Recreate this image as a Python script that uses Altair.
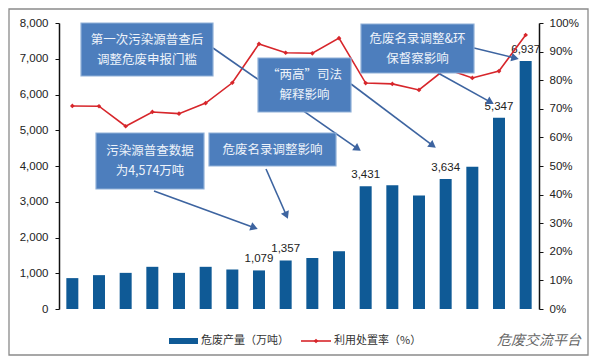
import math
import altair as alt
import pandas as pd

# ---------------- data ----------------
years = [str(y) for y in range(2000, 2018)]
output_wt = [864, 947, 1011, 1180, 1011, 1180, 1105, 1079, 1357, 1430, 1616,
             3431, 3465, 3175, 3634, 3976, 5347, 6937]
rate_pct = [71.0, 70.9, 63.9, 68.9, 68.3, 72.0, 79.1, 92.7, 89.6, 89.4, 94.7,
            79.0, 78.7, 76.6, 84.0, 80.8, 83.2, 95.8]
labelled_years = ["2007", "2008", "2011", "2014", "2016", "2017"]

series_bar = "危废产量（万吨）"
series_line = "利用处置率（%）"

box_lines = [
    ["第一次污染源普查后", "调整危废申报门槛"],
    ["“两高”司法", "解释影响"],
    ["危废名录调整&环", "保督察影响"],
    ["污染源普查数据", "为4,574万吨"],
    ["危废名录调整影响"],
]

# ---------------- layout of annotations (pixels in plot area) ----------------
W, H = 480, 286
box_pos = [  # x, x2, y, y2
    (22, 154, 0, 53),
    (199, 292, 35, 89),
    (302, 415, 1, 50),
    (37, 145, 110, 166),
    (150, 277, 110, 143),
]
arrow_pos = [  # x, y, x2, y2 (tip at x2,y2)
    (154, 25, 302, 128),
    (292, 61, 377, 125),
    (415, 25, 460, 36),
    (379, 50, 435, 81),
    (95, 168, 199, 206),
    (207, 146, 229, 196),
]

BAR_COLOR = "#0f5a96"
LINE_COLOR = "#d7262b"
BOX_COLOR = "#4d7ebd"
ARROW_COLOR = "#3d64a0"
FONT = "Liberation Sans"
CJK = "Noto Sans CJK SC"

df = pd.DataFrame({"year": years, "output": output_wt, "rate": rate_pct})
df["label"] = [f"{v:,}" if y in labelled_years else "" for y, v in zip(years, output_wt)]

xenc = alt.X("year:N", title=None, scale=alt.Scale(paddingInner=0.55, paddingOuter=0.275),
             axis=alt.Axis(labelAngle=0, labelFontSize=9.5, labelFont=FONT, labelColor="#222",
                           domainColor="#111", domainWidth=1.5, tickColor="#111", tickSize=3,
                           tickBand="extent", labelPadding=5))

bars = alt.Chart(df).mark_bar(color=BAR_COLOR).encode(
    x=xenc,
    y=alt.Y("output:Q", title=None,
            scale=alt.Scale(domain=[0, 8000]),
            axis=alt.Axis(format=",.0f", values=list(range(0, 8001, 1000)),
                          labelFontSize=11.5, labelFont=FONT,
                          labelColor="#222", domainColor="#111", domainWidth=1.5,
                          tickColor="#111", tickSize=4, labelPadding=7, grid=False)),
)

labels = alt.Chart(df).mark_text(baseline="bottom", dy=-6, fontSize=11.5, font=FONT,
                                 color="#222").encode(
    x=alt.X("year:N", axis=None),
    y=alt.Y("output:Q", scale=alt.Scale(domain=[0, 8000]), axis=None),
    text="label:N",
)

line = alt.Chart(df).mark_line(
    color=LINE_COLOR, strokeWidth=1.6,
    point=alt.OverlayMarkDef(shape="diamond", size=22, filled=True, color=LINE_COLOR),
).encode(
    x=alt.X("year:N", axis=None),
    y=alt.Y("rate:Q", title=None, scale=alt.Scale(domain=[0, 100]),
            axis=alt.Axis(orient="right", values=list(range(0, 101, 10)),
                          labelExpr="datum.value + '%'", labelFontSize=11.5, labelFont=FONT,
                          labelColor="#222", domainColor="#111", domainWidth=1.5,
                          tickColor="#111", tickSize=4, labelPadding=6, grid=False)),
)

# arrows
arr_rows = []
head_rows = []
for (x1, y1, x2, y2) in arrow_pos:
    dx, dy = x2 - x1, y2 - y1
    L = math.hypot(dx, dy)
    ang = math.degrees(math.atan2(dx, -dy)) % 360
    hx, hy = x2 - dx / L * 4, y2 - dy / L * 4
    arr_rows.append({"x": x1, "y": y1, "x2": x2 - dx / L * 6, "y2": y2 - dy / L * 6})
    head_rows.append({"x": hx, "y": hy, "angle": ang})

arrows = alt.Chart(pd.DataFrame(arr_rows)).mark_rule(color=ARROW_COLOR, strokeWidth=1.6).encode(
    x=alt.X("x:Q", scale=None, axis=None), y=alt.Y("y:Q", scale=None, axis=None),
    x2="x2:Q", y2="y2:Q",
)
heads = alt.Chart(pd.DataFrame(head_rows)).mark_point(
    shape="triangle-up", filled=True, color=ARROW_COLOR, size=75, opacity=1).encode(
    x=alt.X("x:Q", scale=None, axis=None), y=alt.Y("y:Q", scale=None, axis=None),
    angle=alt.Angle("angle:Q", scale=None),
)

# boxes
box_rows = [{"x": a, "x2": b, "y": c, "y2": d} for (a, b, c, d) in box_pos]
boxes = alt.Chart(pd.DataFrame(box_rows)).mark_rect(
    fill=BOX_COLOR, stroke="#8fb0d8", strokeWidth=1.2).encode(
    x=alt.X("x:Q", scale=None, axis=None), y=alt.Y("y:Q", scale=None, axis=None),
    x2="x2:Q", y2="y2:Q",
)
txt_rows = []
for lines_, (a, b, c, d) in zip(box_lines, box_pos):
    n = len(lines_)
    cy = (c + d) / 2
    for i, t in enumerate(lines_):
        txt_rows.append({"x": (a + b) / 2, "y": cy + (i - (n - 1) / 2) * 20, "t": t})
box_text = alt.Chart(pd.DataFrame(txt_rows)).mark_text(
    font=CJK, fontSize=12.5, color="#eef3fa", baseline="middle", align="center").encode(
    x=alt.X("x:Q", scale=None, axis=None), y=alt.Y("y:Q", scale=None, axis=None), text="t:N",
)

# legend (custom)
leg_y = 318
leg_rect = alt.Chart(pd.DataFrame([{"x": 110, "x2": 139, "y": leg_y - 3, "y2": leg_y + 3}])).mark_rect(
    fill=BAR_COLOR).encode(
    x=alt.X("x:Q", scale=None, axis=None), y=alt.Y("y:Q", scale=None, axis=None),
    x2="x2:Q", y2="y2:Q")
leg_rule = alt.Chart(pd.DataFrame([{"x": 242, "x2": 272, "y": leg_y}])).mark_rule(
    color=LINE_COLOR, strokeWidth=1.6).encode(
    x=alt.X("x:Q", scale=None, axis=None), y=alt.Y("y:Q", scale=None, axis=None), x2="x2:Q")
leg_pt = alt.Chart(pd.DataFrame([{"x": 257, "y": leg_y}])).mark_point(
    shape="diamond", filled=True, color=LINE_COLOR, size=22, opacity=1).encode(
    x=alt.X("x:Q", scale=None, axis=None), y=alt.Y("y:Q", scale=None, axis=None))
leg_txt = alt.Chart(pd.DataFrame([{"x": 142, "y": leg_y, "t": series_bar},
                                  {"x": 275, "y": leg_y, "t": series_line}])).mark_text(
    font=CJK, fontSize=11, color="#333", align="left", baseline="middle").encode(
    x=alt.X("x:Q", scale=None, axis=None), y=alt.Y("y:Q", scale=None, axis=None), text="t:N")
watermark = alt.Chart(pd.DataFrame([{"x": 438, "y": leg_y, "t": "危废交流平台"}])).mark_text(
    font=CJK, fontSize=14, color="#666", align="left", baseline="middle", fontStyle="italic").encode(
    x=alt.X("x:Q", scale=None, axis=None), y=alt.Y("y:Q", scale=None, axis=None), text="t:N")

border = alt.Chart(pd.DataFrame([{"x": -50, "x2": 529, "y": -14, "y2": 332}])).mark_rect(
    fill=None, stroke="#8a8a8a", strokeWidth=1.3).encode(
    x=alt.X("x:Q", scale=None, axis=None), y=alt.Y("y:Q", scale=None, axis=None),
    x2="x2:Q", y2="y2:Q")

chart = alt.layer(
    border, bars, labels, line, arrows, heads, boxes, box_text,
    leg_rect, leg_rule, leg_pt, leg_txt, watermark,
).resolve_scale(y="independent").properties(
    width=W, height=H, padding=0, background="white"
).configure_view(stroke=None)

chart.save("out.html", embed_options={"renderer": "svg", "actions": False})
